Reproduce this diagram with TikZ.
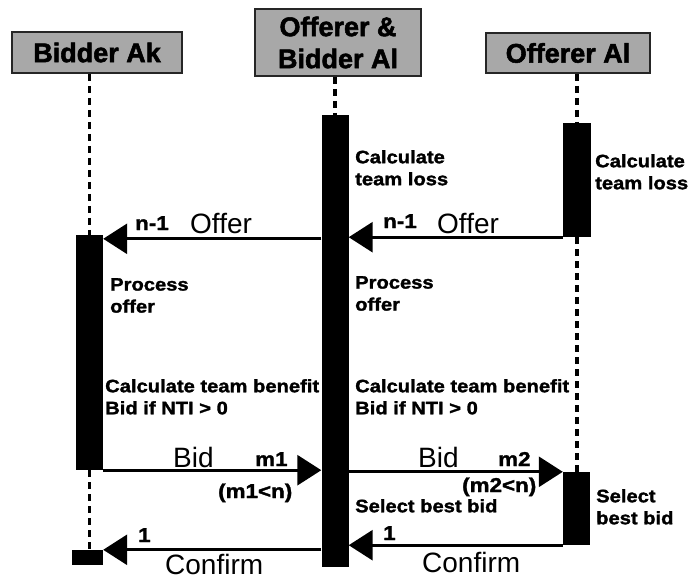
\documentclass[tikz,border=0pt]{standalone}
\usepackage{fontspec}
\setmainfont{Liberation Sans}
\newfontfamily\widesans[FakeStretch=1.12, BoldFeatures={FakeBold=1.6}]{Liberation Sans}
\newfontfamily\headsans[BoldFeatures={FakeBold=2}]{Liberation Sans}
\usetikzlibrary{arrows.meta}
\definecolor{hdrgray}{gray}{0.66}

\tikzset{
  hdr/.style={draw=black!85, line width=1.8pt, fill=hdrgray, inner sep=0pt,
    font=\headsans\bfseries\fontsize{27}{32}\selectfont, align=center},
  bar/.style={fill=black, draw=none, inner sep=0pt},
  lifeline/.style={line width=3.2pt, dash pattern=on 7pt off 5pt},
  msg/.style={line width=3pt, -{Triangle[length=24pt,width=30pt]}},
  note/.style={anchor=north west, inner sep=0pt, align=left,
    font=\widesans\bfseries\fontsize{18}{22}\selectfont},
  tag/.style={anchor=base west, inner sep=0pt,
    font=\widesans\bfseries\fontsize{20}{24}\selectfont},
  big/.style={anchor=base west, inner sep=0pt, font=\fontsize{28}{32}\selectfont},
}

\begin{document}
\begin{tikzpicture}[x=1pt, y=-1pt]
\useasboundingbox (0,0) rectangle (691,579);

% participants
\node[hdr, minimum width=170pt, minimum height=41pt] (hdrL) at (97,52.5) {Bidder Ak};
\node[hdr, minimum width=166pt, minimum height=67pt] (hdrM) at (338,42.5) {Offerer \&\\Bidder Al};
\node[hdr, minimum width=164pt, minimum height=40pt] (hdrR) at (568,53) {Offerer Al};

% activity notes (drawn before the bars, which cover them)
\node[note] (calcM) at (355,150) {Calculate\\team loss};
\node[note] (calcR) at (595,154) {Calculate\\team loss};
\node[note] (procL) at (110,278) {Process\\offer};
\node[note] (procM) at (355,276) {Process\\offer};
\node[note] (benL) at (105,379) {Calculate team benefit\\Bid if NTI > 0};
\node[note] (benM) at (355,379) {Calculate team benefit\\Bid if NTI > 0};
\node[note] (selM) at (355,499) {Select best bid};
\node[note] (selR) at (596,489) {Select\\best bid};

% activation bars
\node[bar, minimum width=27pt, minimum height=235pt] (barL) at (89.5,352.5) {};
\node[bar, minimum width=31pt, minimum height=15pt] (endL) at (87.5,557.5) {};
\node[bar, minimum width=27pt, minimum height=452pt] (barM) at (335,341) {};
\node[bar, minimum width=28pt, minimum height=114pt] (barR1) at (577,180) {};
\node[bar, minimum width=27pt, minimum height=73pt] (barR2) at (576.5,508.5) {};

% lifelines
\draw[lifeline] (barL.north |- hdrL.south) -- (barL.north);
\draw[lifeline] (barL.south) -- (barL.south |- endL.north);
\draw[lifeline] (barM.north |- hdrM.south) -- (barM.north);
\draw[lifeline] (barR1.north |- hdrR.south) -- (barR1.north);
\draw[lifeline] (barR1.south) -- (barR1.south |- barR2.north);

% messages
\coordinate (offerTip) at ([yshift=-4pt]barL.north east);
\draw[msg] (barR1.south west) -- (barM.east |- barR1.south west);
\draw[msg] (barM.west |- offerTip) -- (offerTip);
\draw[msg] (barL.south east) -- (barM.west |- barL.south east);
\draw[msg] (barM.east |- barR2.north west) -- (barR2.north west);
\draw[msg] (barM.west |- endL.north east) -- (endL.north east);
\draw[msg] (barR2.south west) -- (barM.east |- barR2.south west);

% message labels
\node[tag] (nL) at (135,230) {n-1};
\node[big] (offL) at (190,233) {Offer};
\node[tag] (nM) at (383,228) {n-1};
\node[big] (offM) at (437,233) {Offer};
\node[big] (bidL) at (173,467) {Bid};
\node[tag] (m1) at (255,466) {m1};
\node[tag] (m1n) at (218,498) {(m1<n)};
\node[big] (bidM) at (418,467) {Bid};
\node[tag] (m2) at (498,466) {m2};
\node[tag] (m2n) at (462,492) {(m2<n)};
\node[tag] (oneL) at (138,542) {1};
\node[big] (confL) at (165,574) {Confirm};
\node[tag] (oneM) at (383,540) {1};
\node[big] (confM) at (422,572) {Confirm};
\end{tikzpicture}
\end{document}
